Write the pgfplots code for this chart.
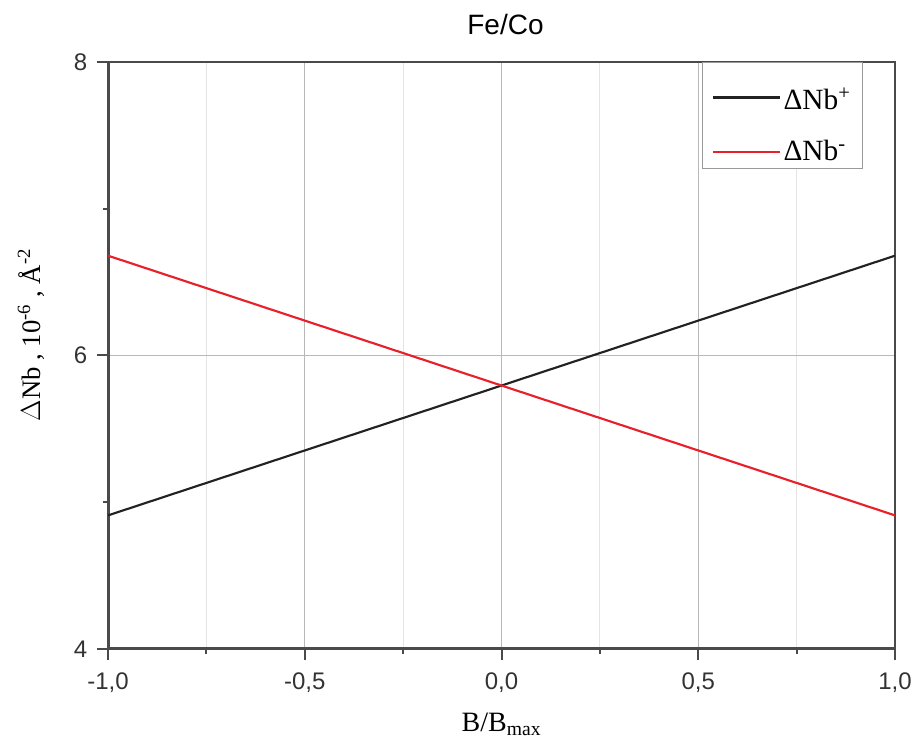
\documentclass[border=0pt]{standalone}
\usepackage{fontspec}
\setmainfont{Liberation Serif}
\newfontfamily\arial{Liberation Sans}
\usepackage{pgfplots}
\pgfplotsset{compat=1.18}
\definecolor{axgray}{HTML}{4A4A4A}
\definecolor{majgrid}{HTML}{B8B8B8}
\definecolor{mingrid}{HTML}{E4E4E4}
\definecolor{lineblack}{HTML}{222222}
\definecolor{linered}{HTML}{E8202A}
\begin{document}
\begin{tikzpicture}
\begin{axis}[
  scale only axis,
  width=590pt, height=440pt,
  xmin=-1, xmax=1, ymin=4, ymax=8,
  xtick={-1,-0.5,0,0.5,1},
  xticklabels={{-1,0},{-0,5},{0,0},{0,5},{1,0}},
  minor xtick={-0.75,-0.25,0.25,0.75},
  ytick={4,6,8},
  yticklabels={4,6,8},
  minor ytick={5,7},
  tick pos=left,
  tick align=outside,
  major tick length=8pt,
  minor tick length=4pt,
  every tick/.style={axgray, line width=1.5pt},
  axis line style={axgray, line width=2.2pt},
  xmajorgrids, xminorgrids, ymajorgrids,
  major grid style={majgrid, line width=0.9pt},
  minor grid style={mingrid, line width=0.9pt},
  ticklabel style={font=\arial\fontsize{18}{21}\selectfont, text=black!80},
  xticklabel style={yshift=-6pt},
  yticklabel style={xshift=-4pt},
  title={\arial Fe/Co},
  title style={font=\arial\fontsize{21}{24}\selectfont, at={(axis description cs:0.505,1.034)}, anchor=base},
  xlabel={B/B\textsubscript{max}},
  xlabel style={font=\fontsize{21}{24}\selectfont, at={(axis description cs:0.5,-0.141)}, anchor=base},
  ylabel={$\Delta$Nb , 10\textsuperscript{-6} , Å\textsuperscript{-2}},
  ylabel style={font=\fontsize{20}{23}\selectfont, at={(axis description cs:-0.0864,0.535)}, anchor=base},
  legend cell align=left,
  legend image code/.code={\draw[#1] (0pt,0pt) -- (50pt,0pt);},
  legend style={at={(axis description cs:0.755,1)}, anchor=north west,
    draw=gray!80, line width=0.8pt, fill=white,
    font=\fontsize{22}{25}\selectfont,
    inner xsep=7pt, inner ysep=2pt, row sep=18pt},
]
\addplot[lineblack, line width=1.6pt,
  legend image code/.code={\draw[##1] (0pt,-6pt) -- (50pt,-6pt);}] coordinates {(-1,4.91) (1,6.68)};
\addlegendentry{\rule{0pt}{31pt}ΔNb\textsuperscript{+}}
\addplot[linered, line width=1.6pt] coordinates {(-1,6.68) (1,4.91)};
\addlegendentry{ΔNb\textsuperscript{-}}
\coordinate (sw) at (rel axis cs:0,0);
\coordinate (ne) at (rel axis cs:1,1);
\end{axis}
\pgfresetboundingbox
\path ([xshift=-81pt,yshift=-71.25pt]sw) rectangle ([xshift=15.75pt,yshift=46.5pt]ne);
\end{tikzpicture}
\end{document}
